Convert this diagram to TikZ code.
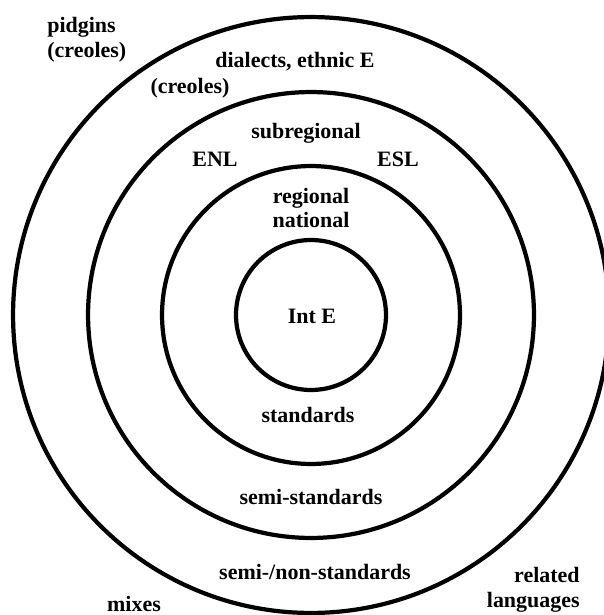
\documentclass[tikz,border=0pt]{standalone}
\usepackage{fontspec}
\setmainfont{Liberation Serif}
\begin{document}
\begin{tikzpicture}[x=0.02cm, y=-0.02cm,
  ring/.style={draw=black, line width=2.4pt},
  lbl/.style={font=\fontsize{12.5}{14.2}\selectfont\bfseries, inner sep=0pt, align=center}]
\useasboundingbox[fill=white] (0,0) rectangle (604,615);
\coordinate (c) at (311,315);
% concentric circles
\draw[ring] (c) circle[radius=1.50cm];
\draw[ring] (c) circle[radius=2.98cm];
\draw[ring] (c) circle[radius=4.46cm];
\draw[ring] (c) circle[radius=5.96cm];
% labels
\node[lbl, align=left, anchor=west] (pidgins) at (47,40) {pidgins\\(creoles)};
\node[lbl] (dialects) at (295,62) {dialects, ethnic E};
\node[lbl] (creoles) at (190,88) {(creoles)};
\node[lbl] (subreg) at (306,133) {subregional};
\node[lbl] (enl) at (215,159) {ENL};
\node[lbl] (esl) at (398,159) {ESL};
\node[lbl] (regional) at (311,208) {regional\\national};
\node[lbl] (inte) at (312,316) {Int E};
\node[lbl] (std) at (308,415) {standards};
\node[lbl] (semistd) at (311,497) {semi-standards};
\node[lbl] (nonstd) at (315,572) {semi-/non-standards};
\node[lbl] (mixes) at (134,604) {mixes};
\node[lbl, align=right, anchor=east] (related) at (580,590) {related\\languages};
\end{tikzpicture}
\end{document}
